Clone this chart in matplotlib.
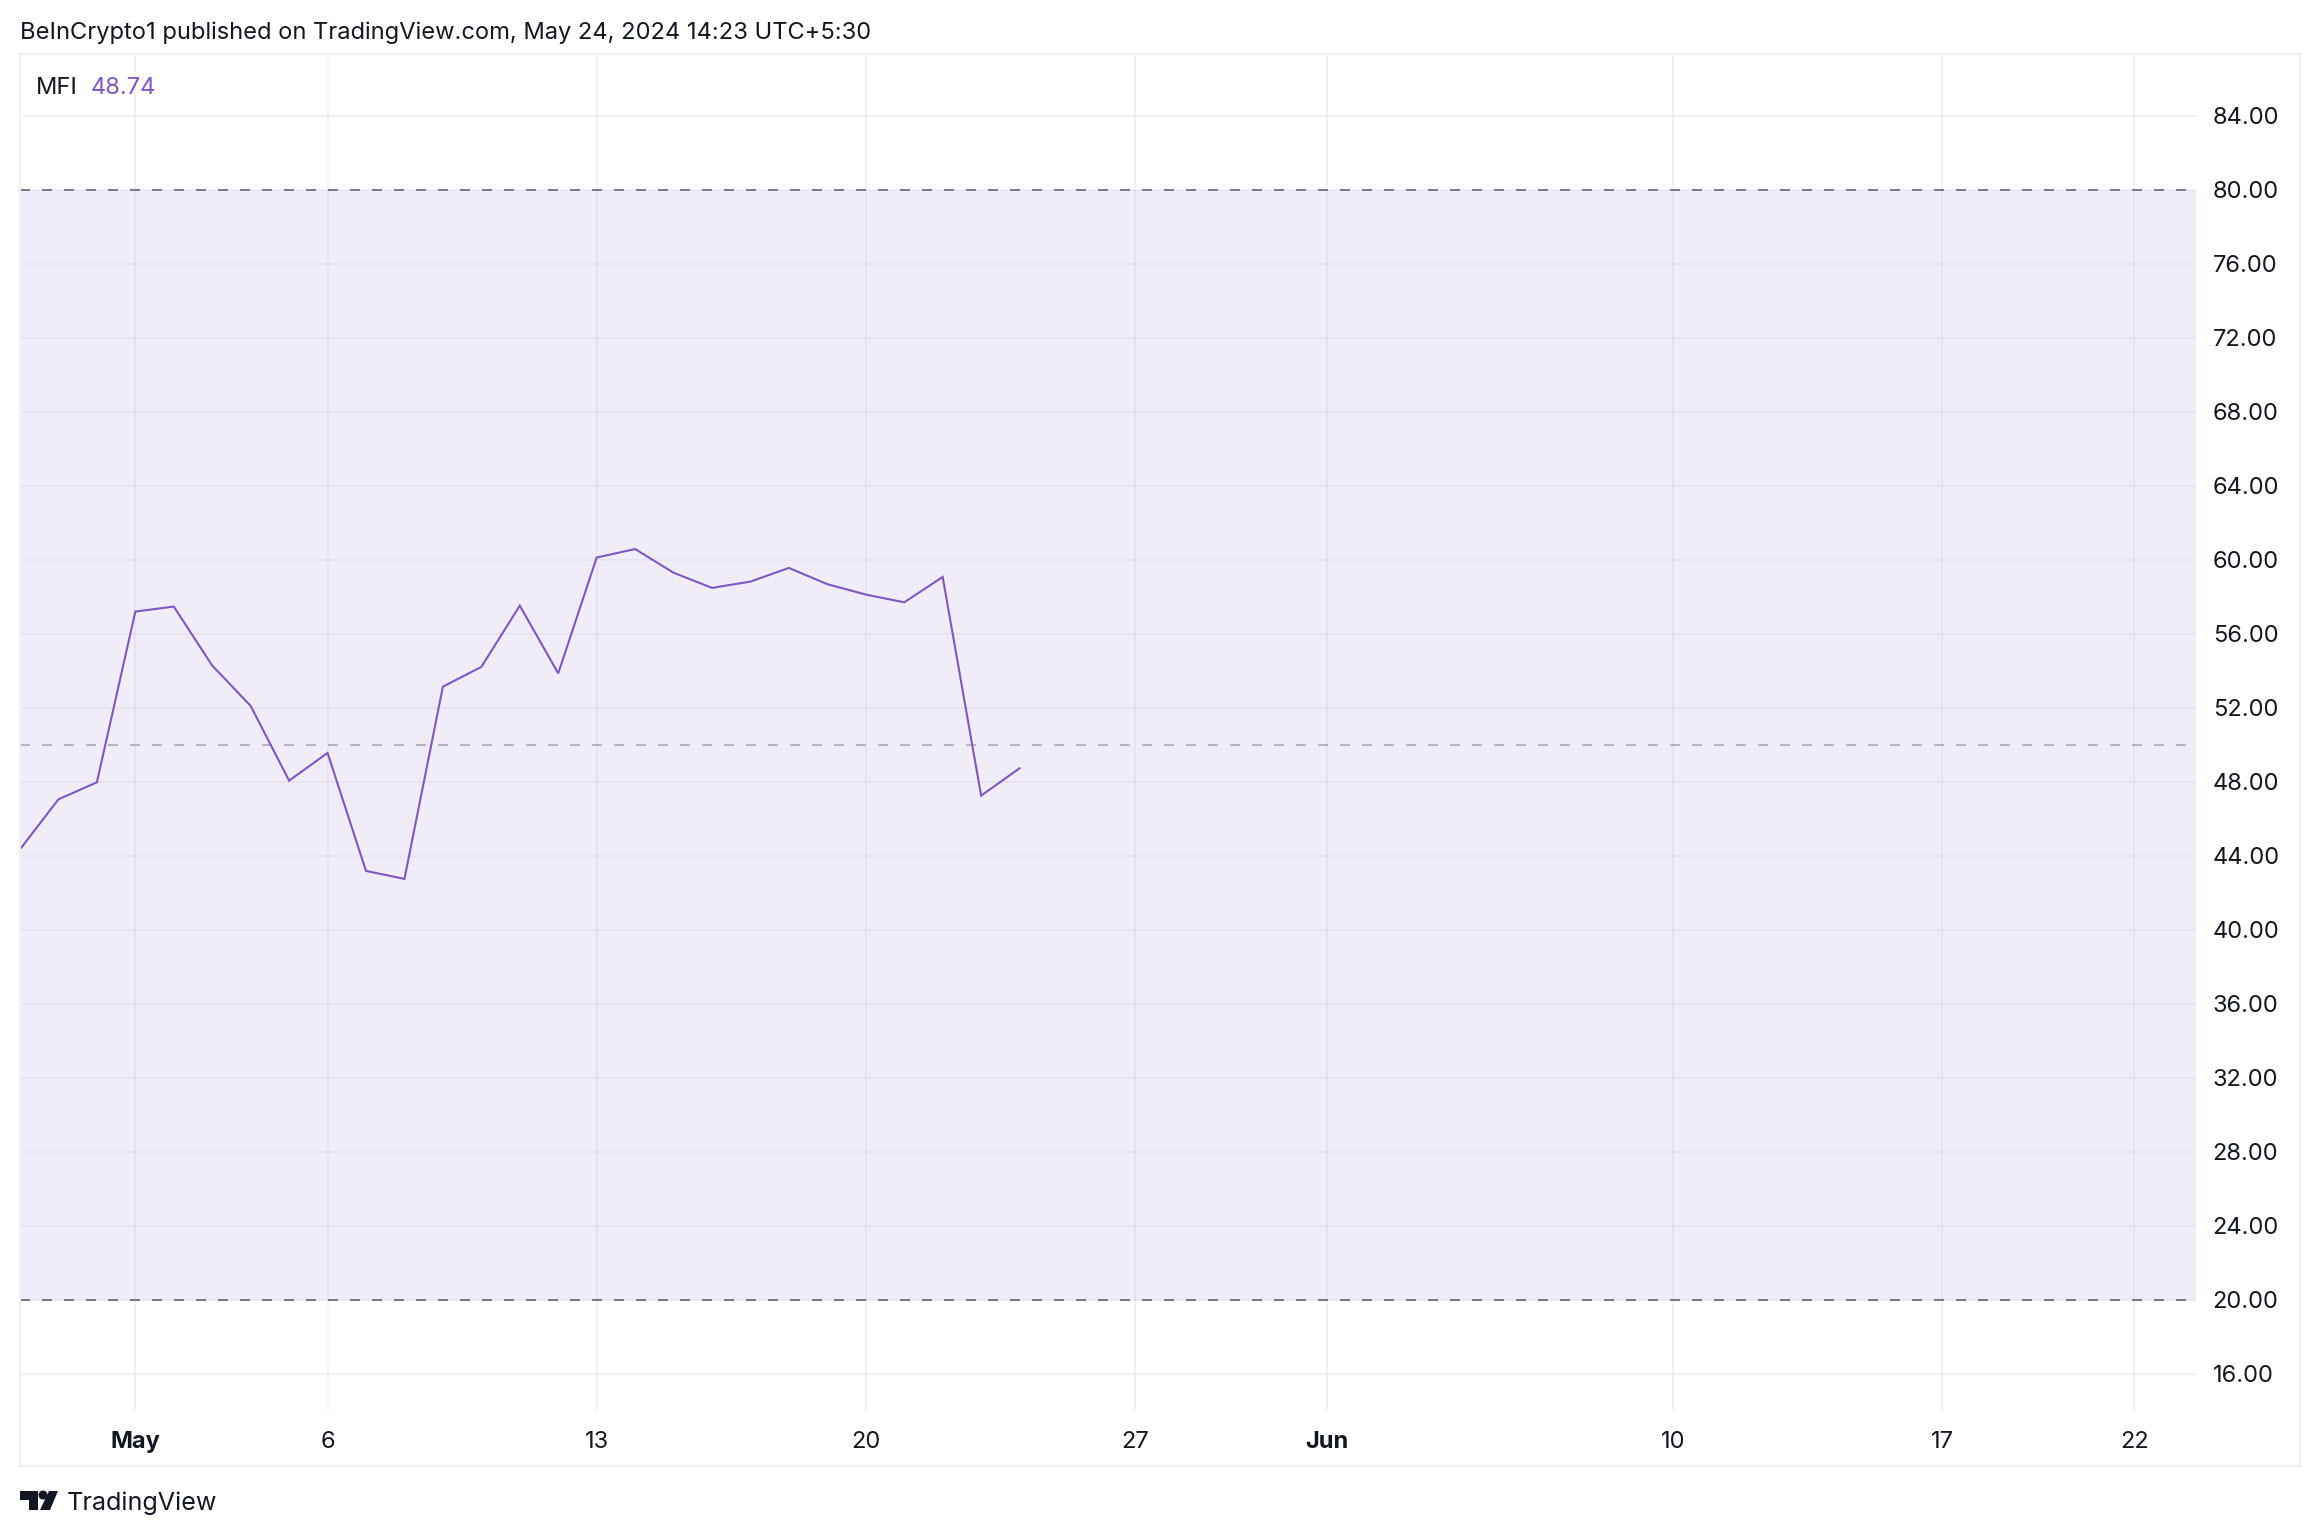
import matplotlib
matplotlib.use('Agg')
import matplotlib.pyplot as plt
from matplotlib.patches import Rectangle, Polygon, Circle
from matplotlib.transforms import Affine2D

plt.rcParams['font.family'] = ['Inter', 'DejaVu Sans']

W, H = 2320, 1536
DPI = 100

# days counted from May 1
days = list(range(-3, 24))
mfi = [44.36, 47.06, 47.98, 57.21, 57.48, 54.29, 52.11, 48.07, 49.57, 43.19,
       42.76, 53.15, 54.22, 57.53, 53.87, 60.13, 60.59, 59.31, 58.49, 58.83,
       59.57, 58.69, 58.13, 57.71, 59.08, 47.26, 48.74]

x_ticks = [0, 5, 12, 19, 26, 31, 40, 47, 52]
x_labels = ['May', '6', '13', '20', '27', 'Jun', '10', '17', '22']
y_ticks = [16, 20, 24, 28, 32, 36, 40, 44, 48, 52, 56, 60, 64, 68, 72, 76, 80, 84]

INK = '#131722'
PURPLE = '#7E57C2'
BORDER = '#F0F0F5'
GREY = '#787B86'

fig = plt.figure(figsize=(W / DPI, H / DPI), dpi=DPI, facecolor='white')
px = Affine2D().scale(1, -1).translate(0, H)  # figure pixels, y going down

# outer frame
fig.add_artist(Rectangle((20, 54), 2280, 1412, transform=px, fill=False,
                         edgecolor=BORDER, linewidth=1.5))

ax = fig.add_axes([20 / W, 1 - 1410 / H, 2176 / W, 1356 / H])
ax.set_xlim(-3, 53.6)
ax.set_ylim(14.05, 87.35)
for s in ax.spines.values():
    s.set_visible(False)

ax.axhspan(20, 80, color=PURPLE, alpha=0.1, linewidth=0, zorder=1)
ax.set_xticks(x_ticks)
ax.set_xticklabels(x_labels)
ax.set_yticks(y_ticks)
ax.set_yticklabels(['%.2f' % v for v in y_ticks])
ax.yaxis.tick_right()
ax.grid(True, color='#2A2E39', alpha=0.06, linewidth=1.4, zorder=2)
ax.set_axisbelow(True)
ax.tick_params(axis='both', length=0, labelsize=17, labelcolor=INK)
ax.tick_params(axis='y', pad=12)
ax.tick_params(axis='x', pad=15)
for t in ax.get_xticklabels():
    if t.get_text() in ('May', 'Jun'):
        t.set_fontweight('bold')

for level, a in ((80, 1), (50, 0.5), (20, 1)):
    ax.axhline(level, color=GREY, alpha=a, linewidth=1.44,
               linestyle=(0, (5, 6)), zorder=3)

ax.plot(days, mfi, color=PURPLE, linewidth=1.5, zorder=4,
        solid_joinstyle='miter')

fig.text(20 / W, 1 - 32.5 / H, 'BeInCrypto1 published on TradingView.com, May 24, 2024 14:23 UTC+5:30',
         fontsize=17.06, color=INK, va='center', ha='left')
fig.text(36 / W, 1 - 87.5 / H, 'MFI', fontsize=17, color=INK, va='center', ha='left')
fig.text(91 / W, 1 - 87.5 / H, '48.74', fontsize=17, color=PURPLE, va='center', ha='left')

# TradingView logo
fig.add_artist(Polygon([(20, 1491), (38, 1491), (38, 1510), (29, 1510), (29, 1500), (20, 1500)],
                       transform=px, facecolor=INK, edgecolor='none'))
fig.add_artist(Circle((43, 1495), 4.5, transform=px, facecolor=INK, edgecolor='none'))
fig.add_artist(Polygon([(49, 1491), (58, 1491), (50, 1510), (40, 1510)],
                       transform=px, facecolor=INK, edgecolor='none'))
fig.text(67 / W, 1 - 1503 / H, 'TradingView', fontsize=18.1, color=INK, va='center', ha='left')

fig.savefig('out.png', dpi=DPI)
